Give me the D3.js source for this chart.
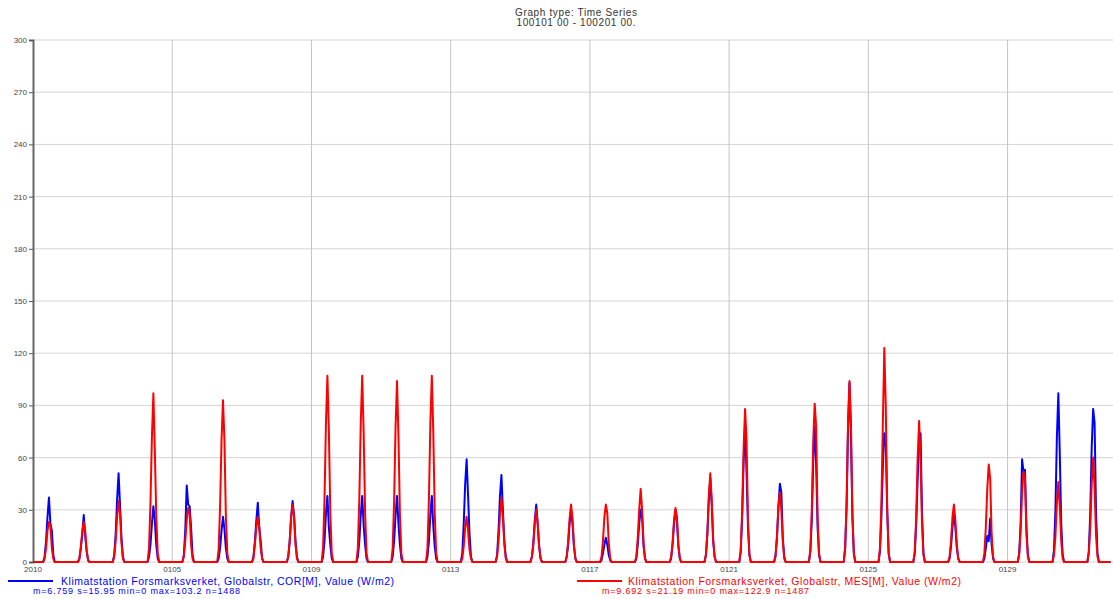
<!DOCTYPE html>
<html>
<head>
<meta charset="utf-8">
<script src="https://cdn.jsdelivr.net/npm/d3@7"></script>
<style>
  body { margin: 0; background: #fff; }
  text { font-family: "Liberation Sans", Arial, sans-serif; }
</style>
</head>
<body>
<div class="chart"></div>
<script>
// Hours of day for each daily sample (UTC), night hours are zero
const hours = [0, 7, 8, 9, 10, 11, 12, 13, 14, 15, 23];

// COR[M] series, one row per day (Jan 1 .. Jan 31)
const corDays = [
  [0,0,3,12,26,37,22,18,4,0,0],
  [0,0,2,8,16,27,15,6,1,0,0],
  [0,0,4,16,36,51,33,14,3,0,0],
  [0,0,3,10,22,32,24,10,2,0,0],
  [0,0,4,18,44,33,32,20,4,0,0],
  [0,0,2,8,18,26,19,8,2,0,0],
  [0,0,3,12,24,34,20,12,2,0,0],
  [0,0,3,12,26,35,27,12,3,0,0],
  [0,0,3,12,28,38,20,10,2,0,0],
  [0,0,3,12,27,38,21,10,2,0,0],
  [0,0,3,12,27,38,22,10,2,0,0],
  [0,0,3,12,27,38,21,9,2,0,0],
  [0,0,5,22,45,59,38,16,3,0,0],
  [0,0,4,18,38,50,30,12,3,0,0],
  [0,0,3,11,24,33,22,9,2,0,0],
  [0,0,3,10,22,30,22,9,2,0,0],
  [0,0,1,5,10,14,10,4,1,0,0],
  [0,0,2,10,22,30,26,9,2,0,0],
  [0,0,2,10,22,30,24,9,2,0,0],
  [0,0,4,16,36,48,33,12,3,0,0],
  [0,0,6,26,58,78,52,20,4,0,0],
  [0,0,4,14,32,45,40,14,3,0,0],
  [0,0,6,24,58,78,56,20,4,0,0],
  [0,0,8,32,78,103,72,26,5,0,0],
  [0,0,6,26,55,74,70,30,5,0,0],
  [0,0,5,22,48,70,74,28,5,0,0],
  [0,0,2,9,20,28,20,8,2,0,0],
  [0,0,2,8,15,12,25,10,2,0,0],
  [0,0,5,22,59,52,53,20,4,0,0],
  [0,0,7,30,72,97,62,22,4,0,0],
  [0,0,6,28,66,88,80,28,5,0,0]
];

// MES[M] series, one row per day
const mesDays = [
  [0,0,2,8,18,23,21,8,2,0,0],
  [0,0,2,9,18,23,18,7,1,0,0],
  [0,0,3,12,26,35,28,11,2,0,0],
  [0,0,8,34,72,97,64,26,5,0,0],
  [0,0,3,12,24,31,28,10,2,0,0],
  [0,0,7,32,70,93,70,26,5,0,0],
  [0,0,2,10,20,26,20,8,2,0,0],
  [0,0,3,12,26,33,26,10,2,0,0],
  [0,0,8,36,80,107,76,28,5,0,0],
  [0,0,8,36,80,107,74,28,5,0,0],
  [0,0,8,35,78,104,72,27,5,0,0],
  [0,0,8,36,80,107,75,28,5,0,0],
  [0,0,2,9,20,26,18,7,2,0,0],
  [0,0,3,12,27,37,26,10,2,0,0],
  [0,0,3,10,22,30,22,9,2,0,0],
  [0,0,3,12,25,33,25,10,2,0,0],
  [0,0,3,12,26,33,28,11,2,0,0],
  [0,0,3,14,30,42,30,11,2,0,0],
  [0,0,3,11,24,31,26,10,2,0,0],
  [0,0,4,17,38,51,36,13,3,0,0],
  [0,0,7,30,66,88,70,24,4,0,0],
  [0,0,3,15,32,40,30,12,2,0,0],
  [0,0,7,30,70,91,78,26,5,0,0],
  [0,0,8,34,80,104,80,28,5,0,0],
  [0,0,8,34,80,123,90,30,5,0,0],
  [0,0,6,26,60,81,58,22,4,0,0],
  [0,0,3,12,26,33,24,10,2,0,0],
  [0,0,5,20,42,56,48,16,3,0,0],
  [0,0,4,18,40,52,48,16,3,0,0],
  [0,0,4,15,34,46,32,12,2,0,0],
  [0,0,5,20,45,60,42,15,3,0,0]
];

const yTicks = [0, 30, 60, 90, 120, 150, 180, 210, 240, 270, 300];
const xTickDays = [1, 5, 9, 13, 17, 21, 25, 29];

const seriesInfo = [
  { name: "Klimatstation Forsmarksverket, Globalstr, COR[M], Value (W/m2)",
    stats: "m=6.759 s=15.95 min=0 max=103.2 n=1488", color: "#0000ff", days: corDays },
  { name: "Klimatstation Forsmarksverket, Globalstr, MES[M], Value (W/m2)",
    stats: "m=9.692 s=21.19 min=0 max=122.9 n=1487", color: "#ff0000", days: mesDays }
];

const width = 1113;
const height = 599;
const margin = { top: 40, right: 1, left: 33, bottom: 37 };

const svg = d3.select(".chart")
  .append("svg")
  .attr("width", width)
  .attr("height", height);

// Scales
const x = d3.scaleUtc()
  .domain([new Date(Date.UTC(2010, 0, 1)), new Date(Date.UTC(2010, 1, 1))])
  .range([margin.left, width - margin.right]);

const y = d3.scaleLinear()
  .domain([0, 300])
  .range([height - margin.bottom, margin.top]);

// Title (two lines)
svg.append("text")
  .attr("x", 576).attr("y", 16)
  .attr("text-anchor", "middle")
  .attr("font-size", 10).attr("fill", "#333")
  .attr("textLength", 122)
  .text("Graph type: Time Series");
svg.append("text")
  .attr("x", 576).attr("y", 26)
  .attr("text-anchor", "middle")
  .attr("font-size", 10).attr("fill", "#333")
  .attr("textLength", 119)
  .text("100101 00 - 100201 00.");

// Horizontal gridlines
svg.append("g")
  .selectAll("line")
  .data(yTicks)
  .enter()
  .append("line")
  .attr("x1", margin.left).attr("x2", width)
  .attr("y1", d => y(d)).attr("y2", d => y(d))
  .attr("stroke", "#d4d4d4").attr("stroke-width", 1);

// Vertical gridlines
const tickDates = xTickDays.map(d => new Date(Date.UTC(2010, 0, d)));
svg.append("g")
  .selectAll("line")
  .data(tickDates.slice(1))
  .enter()
  .append("line")
  .attr("x1", d => x(d)).attr("x2", d => x(d))
  .attr("y1", y(300)).attr("y2", y(0))
  .attr("stroke", "#c4c4c4").attr("stroke-width", 1);

// Y axis
const yAxis = svg.append("g")
  .attr("transform", `translate(${margin.left},0)`)
  .call(d3.axisLeft(y).tickValues(yTicks).tickSize(4).tickPadding(2));
yAxis.select(".domain").attr("stroke", "#666").attr("stroke-width", 2);
yAxis.selectAll(".tick line").attr("stroke", "#555");
yAxis.selectAll(".tick text")
  .attr("font-size", 8).attr("fill", "#444")
  .attr("font-family", "Liberation Sans, Arial, sans-serif");

// X axis labels
const fmt = d3.utcFormat("%m%d");
svg.append("g")
  .selectAll("text")
  .data(tickDates)
  .enter()
  .append("text")
  .attr("x", d => x(d))
  .attr("y", 572)
  .attr("text-anchor", "middle")
  .attr("font-size", 8).attr("fill", "#444")
  .text((d, i) => i === 0 ? "2010" : fmt(d));

// Build series points
function buildPoints(days) {
  const pts = [];
  days.forEach((row, di) => {
    row.forEach((v, hi) => {
      pts.push({ t: new Date(Date.UTC(2010, 0, di + 1, hours[hi])), v: v });
    });
  });
  return pts;
}

const line = d3.line()
  .x(d => x(d.t))
  .y(d => y(d.v));

seriesInfo.forEach(s => {
  svg.append("path")
    .datum(buildPoints(s.days))
    .attr("fill", "none")
    .attr("stroke", s.color)
    .attr("stroke-width", 2)
    .attr("stroke-linejoin", "round")
    .attr("d", line);
});

// Legend
const legendPos = [
  { lx: 8, tx: 61, sx: 33 },
  { lx: 577, tx: 628, sx: 602 }
];
seriesInfo.forEach((s, i) => {
  const p = legendPos[i];
  svg.append("line")
    .attr("x1", p.lx).attr("x2", p.lx + 45)
    .attr("y1", 581).attr("y2", 581)
    .attr("stroke", s.color).attr("stroke-width", 2);
  svg.append("text")
    .attr("x", p.tx).attr("y", 585)
    .attr("font-size", 10.5).attr("fill", s.color)
    .attr("textLength", 333)
    .text(s.name);
  svg.append("text")
    .attr("x", p.sx).attr("y", 594)
    .attr("font-size", 9).attr("fill", s.color)
    .attr("textLength", 207)
    .text(s.stats);
});
</script>
</body>
</html>
